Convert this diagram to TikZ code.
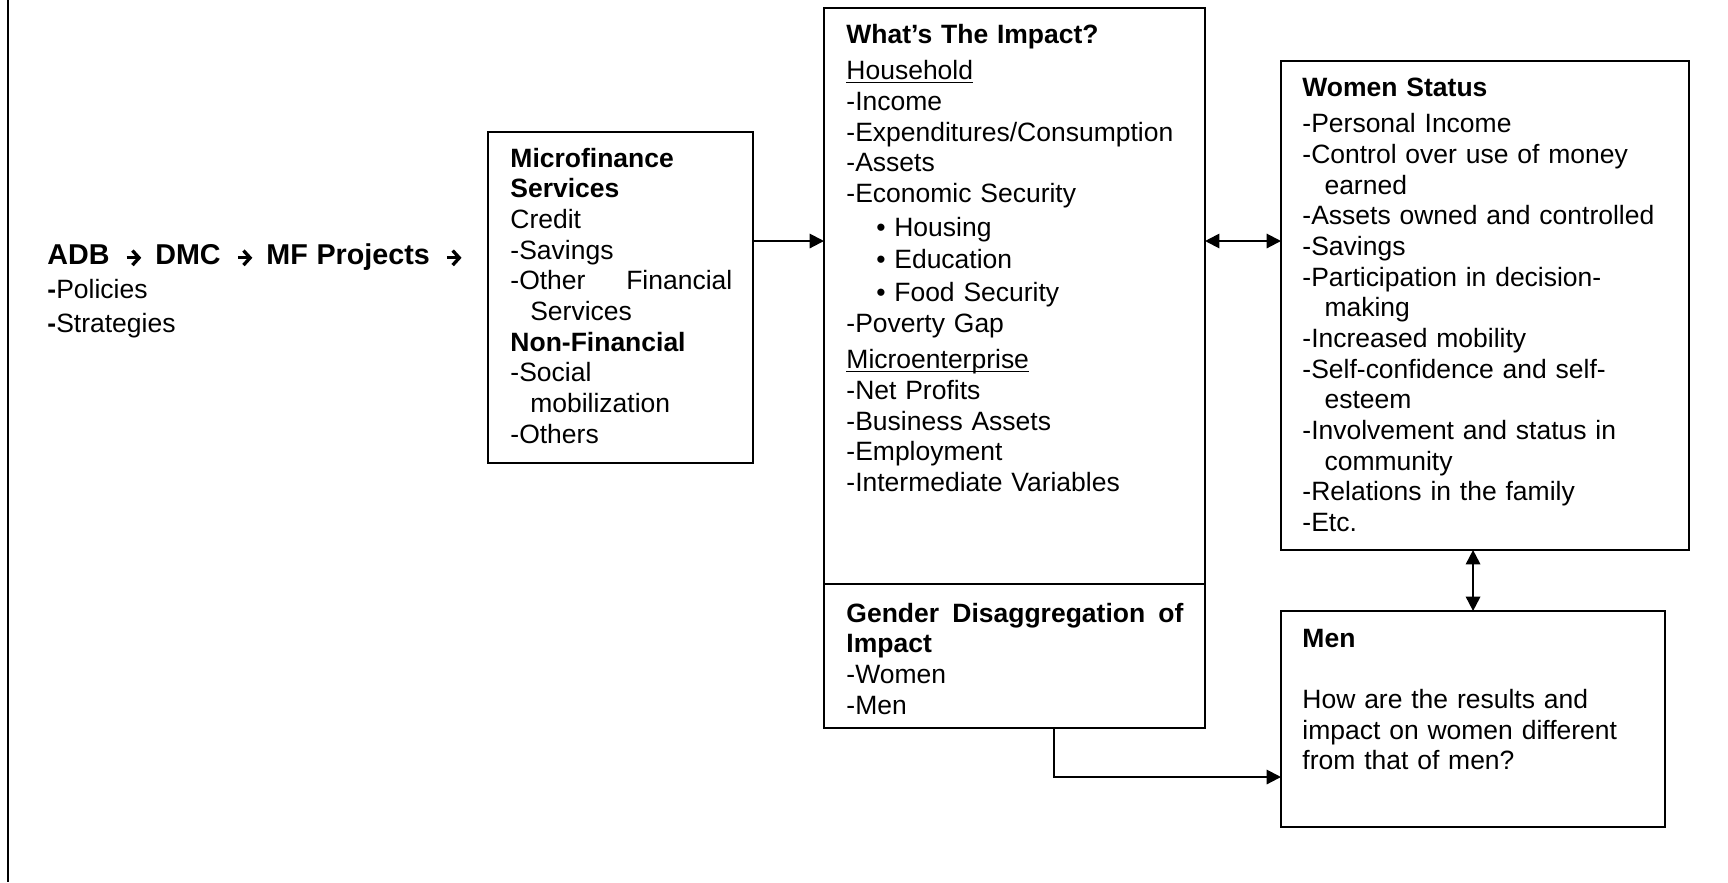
\documentclass[tikz,border=0pt]{standalone}
\usepackage{fontspec}
\setmainfont{Liberation Sans}
\usetikzlibrary{arrows.meta,positioning}
\setlength{\parindent}{0pt}
\hbadness=10000
\newcommand{\arr}{\hspace{3pt}\tikz[baseline=0pt]{\draw[line width=1.5pt, -{Straight Barb[length=3pt,width=6.6pt]}] (0pt,2.8pt) -- (6.6pt,2.8pt);}\hspace{1.6pt}}
\newcommand{\undl}[1]{\underline{\smash{#1}}}
\tikzstyle{line} = [draw, line width=0.9pt, -{Triangle[length=6.5pt,width=6.5pt]}]
\tikzstyle{dline} = [draw, line width=0.9pt, {Triangle[length=6.5pt,width=6.5pt]}-{Triangle[length=6.5pt,width=6.5pt]}]
\tikzstyle{block} = [draw, rectangle, line width=0.9pt, inner sep=0pt, outer sep=0pt, anchor=north west]
\tikzstyle{txt} = [inner sep=0pt, anchor=base west, align=left, font=\fontsize{12}{13.9}\selectfont]

\begin{document}
\begin{tikzpicture}[x=0.453pt, y=-0.453pt]
    \useasboundingbox (0,0) rectangle (1728,882);
    \draw[line width=0.9pt] (8,0) -- (8,882);
    \node[block, minimum width=120pt, minimum height=149.9pt] (mfs) at (488,132) {};
    \node[block, minimum width=172.6pt, minimum height=260.9pt] (impact) at (824,8) {};
    \node[block, below=0pt of impact, minimum width=172.6pt, minimum height=65.2pt] (gender) {};
    \node[block, minimum width=184.8pt, minimum height=221.5pt] (women) at (1281,61) {};
    \node[block, minimum width=174pt, minimum height=97.8pt] (men) at (1281,611) {};
    \node[txt, text width=220pt, font=\fontsize{12}{15.4}\selectfont] (adb) at (47,264)
        {{\fontsize{13}{15.4}\selectfont\bfseries ADB \arr{} DMC \arr{} MF Projects \arr}\\
         \textbf{-}Policies\\ \textbf{-}Strategies};
    \node[txt, text width=100.5pt] (mfstext) at (510,167)
        {\textbf{Microfinance}\\ \textbf{Services}\\ Credit\\ -Savings\\ -Other\hfill Financial\\
         \hspace*{9pt}Services\\ \textbf{Non-Financial}\\ -Social\\ \hspace*{9pt}mobilization\\ -Others};
    \node[txt, text width=160pt] (impacttext) at (846,43)
        {\textbf{What’s The Impact?}\\[2.7pt]
         \undl{Household}\\ -Income\\ -Expenditures/Consumption\\ -Assets\\ -Economic Security\\[1.6pt]
         \hspace*{13.5pt}\makebox[8.2pt][l]{\textbullet}Housing\\[0.7pt]
         \hspace*{13.5pt}\makebox[8.2pt][l]{\textbullet}Education\\[1.1pt]
         \hspace*{13.5pt}\makebox[8.2pt][l]{\textbullet}Food Security\\
         -Poverty Gap\\[2.5pt]
         \undl{Microenterprise}\\ -Net Profits\\ -Business Assets\\ -Employment\\ -Intermediate Variables};
    \node[txt, text width=152.7pt] (gendertext) at (846,622)
        {\textbf{Gender\hfill Disaggregation\hfill of}\\ \textbf{Impact}\\ -Women\\ -Men};
    \node[txt, text width=172pt] (womentext) at (1302,96)
        {\textbf{Women Status}\\[2.7pt]
         -Personal Income\\ -Control over use of money\\ \hspace*{10pt}earned\\
         -Assets owned and controlled\\ -Savings\\ -Participation in decision-\\ \hspace*{10pt}making\\
         -Increased mobility\\ -Self-confidence and self-\\ \hspace*{10pt}esteem\\
         -Involvement and status in\\ \hspace*{10pt}community\\ -Relations in the family\\ -Etc.};
    \node[txt, text width=165pt] (mentext) at (1302,647)
        {\textbf{Men}\\[13.9pt] How are the results and\\ impact on women different\\ from that of men?};
    \coordinate (row) at (0,241);
    \coordinate (turn) at (1054,777);
    \path[line] (mfs.east |- row) -- (impact.west |- row);
    \path[dline] (impact.east |- row) -- (women.west |- row);
    \path[dline] (men.north |- women.south) -- (men.north);
    \path[line] (gender.south -| turn) -- (turn) -- (turn -| men.west);
\end{tikzpicture}
\end{document}
